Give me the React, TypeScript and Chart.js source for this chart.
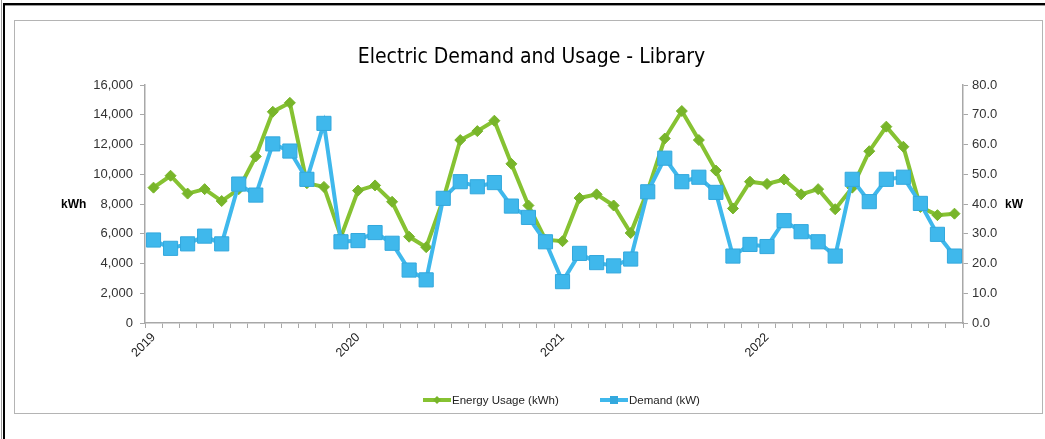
import React, { useEffect, useRef } from "react";
import { Chart, registerables } from "chart.js";

Chart.register(...registerables);

const years = ["2019", "2020", "2021", "2022"];
const monthNames = ["Jan", "Feb", "Mar", "Apr", "May", "Jun", "Jul", "Aug", "Sep", "Oct", "Nov", "Dec"];
const categories = years.flatMap((y) => monthNames.map((m) => `${m} ${y}`));

const energyUsage = [
  9100, 9900, 8700, 9000, 8200, 9000, 11200, 14200, 14800, 9400, 9150, 5800,
  8900, 9250, 8150, 5800, 5100, 8300, 12300, 12900, 13600, 10700, 7900, 5600,
  5500, 8400, 8650, 7900, 6050, 8900, 12400, 14250, 12300, 10250, 7700, 9500,
  9350, 9650, 8650, 9000, 7650, 9100, 11550, 13200, 11850, 7800, 7250, 7350,
];

const demand = [
  27.9, 25.1, 26.6, 29.2, 26.6, 46.7, 43.0, 60.2, 57.8, 48.3, 67.1, 27.3,
  27.7, 30.4, 26.8, 17.8, 14.5, 41.9, 47.5, 45.8, 47.2, 39.3, 35.5, 27.3,
  13.9, 23.4, 20.3, 19.2, 21.5, 44.1, 55.4, 47.5, 49.0, 43.9, 22.5, 26.4,
  25.7, 34.4, 30.7, 27.3, 22.5, 48.3, 40.8, 48.3, 49.0, 40.2, 29.8, 22.5,
];

const seriesNames = ["Energy Usage (kWh)", "Demand (kW)"];
const chartTitle = "Electric Demand and Usage - Library";

const GREEN = "#86c232";
const GREEN_DARK = "#78b52a";
const BLUE = "#3fb8ec";
const BLUE_DARK = "#33a8dd";
const AXIS = "#a8a8a8";
const FONT = "'Liberation Sans', Arial, sans-serif";

const overlayPlugin = {
  id: "overlay",
  afterDraw(chart: any) {
    const ctx = chart.ctx as CanvasRenderingContext2D;
    const area = chart.chartArea;
    const w = chart.width;
    ctx.save();
    // title
    ctx.fillStyle = "#000";
    ctx.font = `21px 'Liberation Sans Narrow', 'DejaVu Sans Condensed', ${FONT}`;
    ctx.textAlign = "center";
    ctx.textBaseline = "middle";
    ctx.fillText(chartTitle, w / 2 + 3, 37);
    // axis titles
    ctx.font = `bold 12px ${FONT}`;
    const midY = (area.top + area.bottom) / 2;
    ctx.textAlign = "left";
    ctx.fillText("kWh", 46, midY + 1);
    ctx.fillText("kW", 990, midY + 1);
    // legend
    const ly = 379;
    ctx.font = `11.5px ${FONT}`;
    const items = [
      { x: 408, color: GREEN, mark: GREEN_DARK, style: "diamond", text: seriesNames[0] },
      { x: 585, color: BLUE, mark: BLUE_DARK, style: "square", text: seriesNames[1] },
    ];
    for (const it of items) {
      ctx.strokeStyle = it.color;
      ctx.lineWidth = 4;
      ctx.beginPath();
      ctx.moveTo(it.x, ly);
      ctx.lineTo(it.x + 28, ly);
      ctx.stroke();
      ctx.fillStyle = it.mark;
      const cx = it.x + 14;
      if (it.style === "diamond") {
        ctx.beginPath();
        ctx.moveTo(cx, ly - 4);
        ctx.lineTo(cx + 4, ly);
        ctx.lineTo(cx, ly + 4);
        ctx.lineTo(cx - 4, ly);
        ctx.closePath();
        ctx.fill();
      } else {
        ctx.fillRect(cx - 4, ly - 4, 8, 8);
      }
      ctx.fillStyle = "#222";
      ctx.textAlign = "left";
      ctx.fillText(it.text, it.x + 29, ly + 1);
    }
    ctx.restore();
  },
};

function ChartCanvas() {
  const ref = useRef<HTMLCanvasElement | null>(null);
  useEffect(() => {
    if (!ref.current) return;
    const chart = new Chart(ref.current, {
      type: "line",
      data: {
        labels: categories,
        datasets: [
          {
            label: seriesNames[0],
            data: energyUsage,
            yAxisID: "y",
            borderColor: GREEN,
            backgroundColor: GREEN_DARK,
            pointBorderColor: GREEN_DARK,
            borderWidth: 4,
            pointStyle: "rectRot",
            pointRadius: 5.5,
            pointBorderWidth: 1,
            tension: 0,
            order: 1,
          },
          {
            label: seriesNames[1],
            data: demand,
            yAxisID: "y1",
            borderColor: BLUE,
            backgroundColor: BLUE,
            pointBorderColor: BLUE_DARK,
            borderWidth: 4,
            pointStyle: "rect",
            pointRadius: 10,
            pointBorderWidth: 1,
            tension: 0,
            order: 0,
          },
        ],
      },
      options: {
        animation: false,
        responsive: true,
        maintainAspectRatio: false,
        layout: { padding: { top: 64, left: 0, right: 0, bottom: 0 } },
        plugins: {
          legend: { display: false },
          title: { display: false },
          tooltip: { enabled: false },
        },
        scales: {
          x: {
            type: "category",
            offset: true,
            afterFit: (s: any) => {
              s.height = 90;
            },
            grid: {
              offset: true,
              drawOnChartArea: false,
              drawTicks: true,
              tickLength: 5,
              color: AXIS,
              lineWidth: 1,
            },
            border: { color: AXIS, width: 1.5 },
            ticks: {
              autoSkip: false,
              maxRotation: 45,
              minRotation: 45,
              padding: 2,
              color: "#222",
              font: { family: FONT, size: 12.5 },
              callback: (_v: any, i: number) => (i % 12 === 0 ? years[i / 12] : ""),
            },
          },
          y: {
            position: "left",
            min: 0,
            max: 16000,
            afterFit: (s: any) => {
              s.width = 130;
            },
            grid: {
              drawOnChartArea: false,
              drawTicks: true,
              tickLength: 5,
              color: AXIS,
            },
            border: { color: AXIS, width: 1.5 },
            ticks: {
              stepSize: 2000,
              padding: 7,
              color: "#333",
              font: { family: FONT, size: 13 },
              callback: (v: any) => Number(v).toLocaleString("en-US"),
            },
          },
          y1: {
            position: "right",
            min: 0,
            max: 80,
            afterFit: (s: any) => {
              s.width = 79;
            },
            grid: {
              drawOnChartArea: false,
              drawTicks: true,
              tickLength: 5,
              color: AXIS,
            },
            border: { color: AXIS, width: 1.5 },
            ticks: {
              stepSize: 10,
              padding: 4,
              color: "#333",
              font: { family: FONT, size: 13 },
              callback: (v: any) => Number(v).toFixed(1),
            },
          },
        },
      },
      plugins: [overlayPlugin],
    } as any);
    return () => chart.destroy();
  }, []);
  return <canvas ref={ref} />;
}

export default function App() {
  return (
    <div style={{ position: "absolute", left: 0, top: 0, width: 1045, height: 439, background: "#fff", overflow: "hidden" }}>
      {/* outer frame lines */}
      <div style={{ position: "absolute", left: 1, top: 0, width: 1, height: 439, background: "#9a9a9a" }} />
      <div style={{ position: "absolute", left: 3, top: 3, width: 2, height: 436, background: "#000" }} />
      <div style={{ position: "absolute", left: 3, top: 3, width: 1042, height: 2, background: "#000" }} />
      <div style={{ position: "absolute", left: 5, top: 5, width: 1040, height: 1, background: "#9a9a9a" }} />
      {/* chart box */}
      <div
        style={{
          position: "absolute",
          left: 14,
          top: 20,
          width: 1027,
          height: 392,
          border: "1.5px solid #b4b4b4",
          boxSizing: "content-box",
        }}
      >
        <div style={{ position: "relative", width: 1027, height: 392 }}>
          <ChartCanvas />
        </div>
      </div>
    </div>
  );
}
